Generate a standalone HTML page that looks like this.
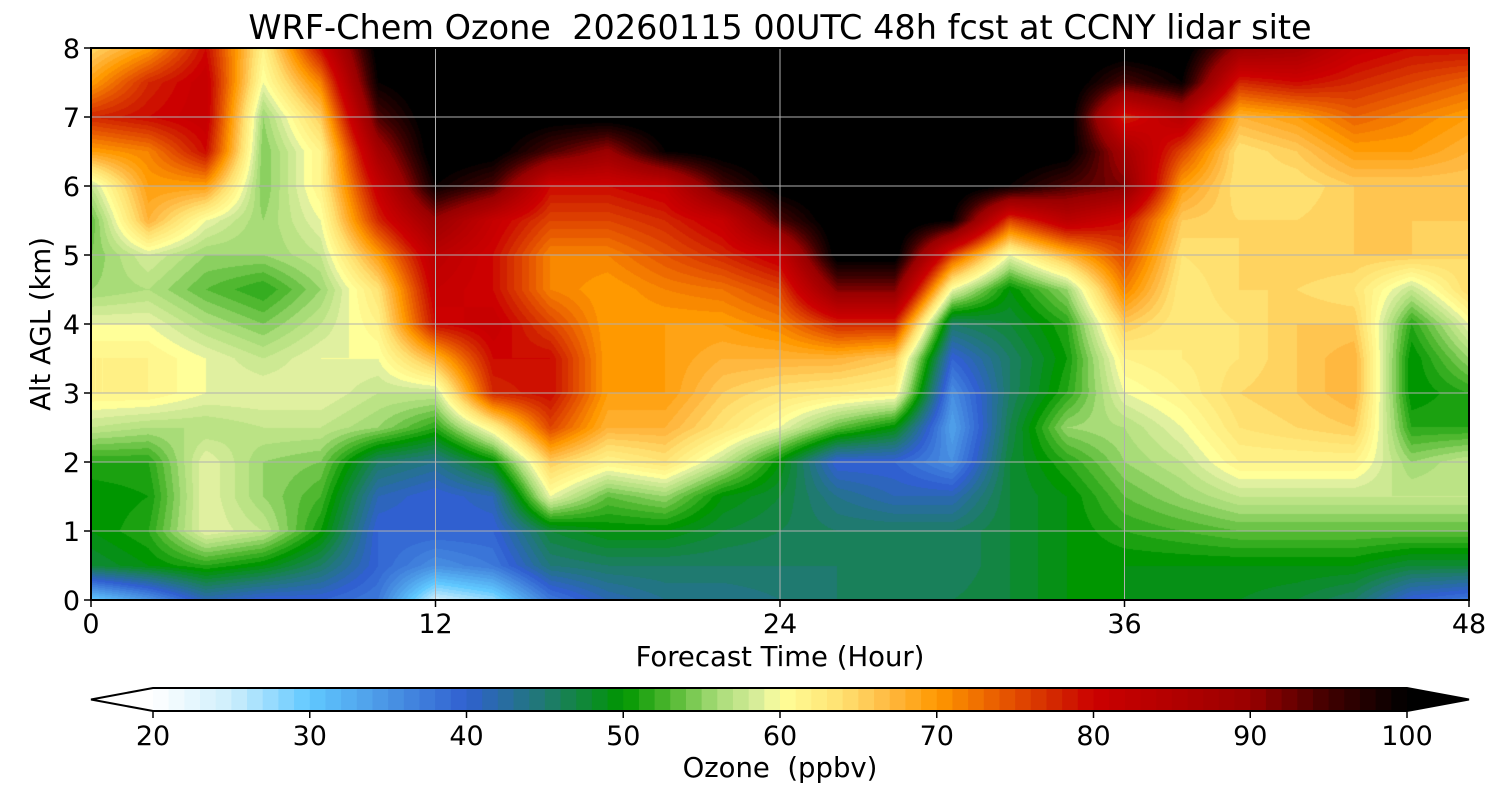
<!DOCTYPE html>
<html><head><meta charset="utf-8">
<style>
html,body{margin:0;padding:0;background:#fff;width:1500px;height:800px;overflow:hidden}
#wrap{position:relative;width:1500px;height:800px}
canvas{position:absolute;left:91px;top:48px}
svg{position:absolute;left:0;top:0}
text{font-family:"DejaVu Sans","Liberation Sans",sans-serif;fill:#000;white-space:pre}
</style></head>
<body>
<div id="wrap">
<canvas id="cv" width="1378" height="552"></canvas>
<svg id="sv" width="1500" height="800"></svg>
</div>
<script>
const hours=[0,2,4,6,8,10,12,14,16,18,20,22,24,26,28,30,32,34,36,38,40,42,44,46,48];
const alts=[0,0.5,1,1.5,2,2.5,3,3.5,4,4.5,5,5.5,6,6.5,7,7.5,8];
const ozone=[
[30,48,50,50,52,58,62,62,60,56,55,54,58,70,78,70,65],
[35,50,52,51,52,57,62,62,60,57,59,68,70,72,80,78,70],
[42,52,60,60,60,57,60,60,57,54,56,60,70,80,82,82,80],
[40,50,58,56,56,58,60,58,55,52,56,56,55,55,56,60,62],
[40,46,51,53,55,58,60,60,58,56,58,60,62,62,66,72,80],
[38,40,40,42,46,56,58,60,62,64,70,78,82,88,95,100,102],
[25,36,40,40,44,52,58,68,80,82,84,90,100,103,103,103,103],
[28,38,40,42,50,62,78,80,82,80,80,82,95,102,103,103,103],
[38,45,48,60,66,76,80,80,76,72,72,76,80,95,102,103,103],
[42,46,50,54,62,68,70,70,70,70,72,76,80,90,102,103,103],
[44,46,50,56,64,68,70,70,70,72,75,78,82,100,103,103,103],
[44,46,48,50,58,64,66,68,70,73,78,82,95,102,103,103,103],
[45,46,47,48,50,60,64,68,72,76,82,95,102,103,103,103,103],
[46,46,46,44,40,54,63,68,78,92,102,103,103,103,103,103,103],
[46,46,46,42,40,50,62,66,78,92,102,103,103,103,103,103,103],
[47,46,46,42,36,34,36,40,46,60,76,100,103,103,103,103,103],
[48,48,48,48,48,47,46,46,48,50,60,76,100,103,103,103,103],
[50,50,50,50,52,56,52,51,52,56,68,84,95,102,103,103,103],
[50,50,52,54,56,57,60,62,66,72,76,80,92,88,78,95,103],
[49,50,53,56,58,60,62,63,63,63,64,66,70,76,85,100,103],
[49,50,54,58,62,64,65,64,64,65,65,65,64,64,68,78,90],
[48,50,54,58,62,65,66,66,66,65,66,65,64,66,70,80,88],
[46,50,54,58,62,66,68,68,66,64,66,66,66,70,74,78,82],
[40,48,54,58,56,52,50,50,52,58,66,66,66,70,72,76,80],
[38,48,54,58,58,52,52,56,60,65,65,66,66,68,70,74,80]
];
const cbTicks=[20,30,40,50,60,70,80,90,100];
const xTicks=[0,12,24,36,48];
const yTicks=[0,1,2,3,4,5,6,7,8];

const stops=[[20,'#ffffff'],[25,'#cdeefc'],[30,'#60c8ff'],[35,'#4a94e4'],[40,'#3060d0'],[45,'#1f7a70'],[50,'#009600'],[53,'#50b830'],[56,'#a8dc78'],[59,'#e0f0a0'],[60,'#ffff99'],[64,'#ffe070'],[67,'#ffb840'],[70,'#ff9900'],[74,'#e85a00'],[78,'#d02000'],[80,'#cc0000'],[90,'#990000'],[95,'#400000'],[100,'#000000']];
function hex(h){return [parseInt(h.substr(1,2),16),parseInt(h.substr(3,2),16),parseInt(h.substr(5,2),16)];}
function cmap(v){
  if(v<=20)return [255,255,255]; if(v>=100)return [0,0,0];
  for(let i=0;i<stops.length-1;i++){const a=stops[i],b=stops[i+1];
    if(v>=a[0]&&v<=b[0]){const t=(v-a[0])/(b[0]-a[0]);const ca=hex(a[1]),cb=hex(b[1]);
      return [0,1,2].map(k=>Math.round(ca[k]+(cb[k]-ca[k])*t));}}
  return [0,0,0];
}
const X0=91,X1=1469,Y0=600,Y1=48;
const xs=h=>X0+(h-hours[0])/(hours[hours.length-1]-hours[0])*(X1-X0);
const ys=a=>Y0-(a-alts[0])/(alts[alts.length-1]-alts[0])*(Y0-Y1);
const cx=v=>153+(v-20)/80*(1407-153);

const cv=document.getElementById('cv'),ctx=cv.getContext('2d');
const W=cv.width,H=cv.height,img=ctx.createImageData(W,H);
const nT=hours.length,nA=alts.length;
for(let py=0;py<H;py++){
  const a=(alts[nA-1]-alts[0])*(1-(py+0.5)/H)+alts[0];
  let j=0;while(j<nA-2&&alts[j+1]<a)j++;
  const ty=Math.min(1,Math.max(0,(a-alts[j])/(alts[j+1]-alts[j])));
  for(let px=0;px<W;px++){
    const h=(hours[nT-1]-hours[0])*(px+0.5)/W+hours[0];
    let i=0;while(i<nT-2&&hours[i+1]<h)i++;
    const tx=Math.min(1,Math.max(0,(h-hours[i])/(hours[i+1]-hours[i])));
    const v=(ozone[i][j]*(1-tx)+ozone[i+1][j]*tx)*(1-ty)+(ozone[i][j+1]*(1-tx)+ozone[i+1][j+1]*tx)*ty;
    const c=cmap(Math.floor(v));const o=(py*W+px)*4;
    img.data[o]=c[0];img.data[o+1]=c[1];img.data[o+2]=c[2];img.data[o+3]=255;
  }
}
ctx.putImageData(img,0,0);

const sv=document.getElementById('sv');const NS='http://www.w3.org/2000/svg';
function el(tag,attrs,txt){const e=document.createElementNS(NS,tag);for(const k in attrs)e.setAttribute(k,attrs[k]);if(txt!==undefined)e.textContent=txt;sv.appendChild(e);return e;}
xTicks.forEach(h=>{if(h>0&&h<48){const g=el('line',{x1:xs(h),x2:xs(h),y1:Y1,y2:Y0,stroke:'#b0b0b0','stroke-width':1});
}});
yTicks.forEach(a=>{if(a>0&&a<8){const g=el('line',{x1:X0,x2:X1,y1:ys(a),y2:ys(a),stroke:'#b0b0b0','stroke-width':1});
}});
const fr=el('rect',{x:X0,y:Y1,width:X1-X0,height:Y0-Y1,fill:'none',stroke:'#000','stroke-width':2});

xTicks.forEach(h=>{el('line',{x1:xs(h),x2:xs(h),y1:Y0,y2:Y0+7,stroke:'#000','stroke-width':1.5});
const t=el('text',{x:xs(h),y:Y0+33,'text-anchor':'middle','font-size':27},String(h));
});
yTicks.forEach(a=>{el('line',{x1:X0-7,x2:X0,y1:ys(a),y2:ys(a),stroke:'#000','stroke-width':1.5});
const t=el('text',{x:X0-11,y:ys(a)+10,'text-anchor':'end','font-size':27},String(a));
});
let t;
t=el('text',{x:780,y:39,'text-anchor':'middle','font-size':33.5},'WRF-Chem Ozone  20260115 00UTC 48h fcst at CCNY lidar site');

t=el('text',{x:780,y:666,'text-anchor':'middle','font-size':27.5},'Forecast Time (Hour)');

t=el('text',{x:50,y:324,'text-anchor':'middle','font-size':27.5,transform:'rotate(-90 50 324)'},'Alt AGL (km)');

for(let v=20;v<100;v++){const c=cmap(v+0.5);
const r=el('rect',{x:cx(v),y:688,width:cx(v+1)-cx(v)+0.6,height:23,fill:'rgb('+c.join(',')+')'});
}
const lt=el('polygon',{points:'153,688 91,699.5 153,711',fill:'#fff'});

const rt=el('polygon',{points:'1407,688 1469,699.5 1407,711',fill:'#000'});

const cbo=el('polygon',{points:'153,688 1407,688 1469,699.5 1407,711 153,711 91,699.5',fill:'none',stroke:'#000','stroke-width':2});

cbTicks.forEach(v=>{el('line',{x1:cx(v),x2:cx(v),y1:711,y2:718,stroke:'#000','stroke-width':1.5});
const tt=el('text',{x:cx(v),y:745,'text-anchor':'middle','font-size':27},String(v));
});
t=el('text',{x:780,y:777,'text-anchor':'middle','font-size':27.5},'Ozone  (ppbv)');

</script>
</body></html>
